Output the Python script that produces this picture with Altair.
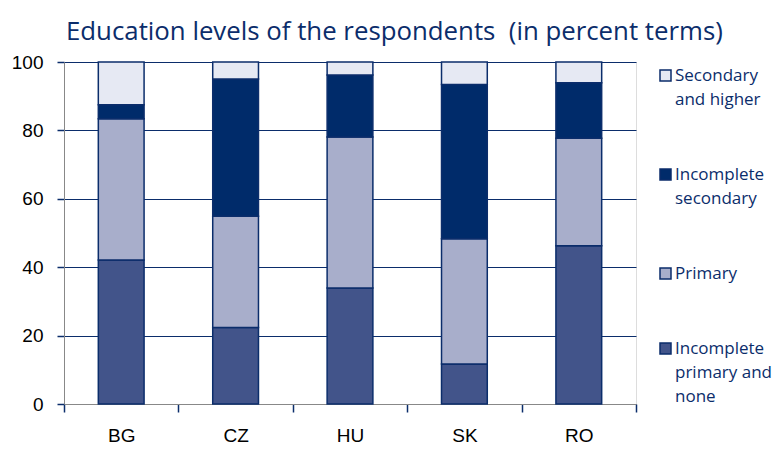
import altair as alt
import pandas as pd

countries = ["BG", "CZ", "HU", "SK", "RO"]
levels = ["Secondary and higher", "Incomplete secondary", "Primary", "Incomplete primary and none"]
incomplete_primary = [42.1, 22.4, 33.9, 11.7, 46.3]
primary = [41.3, 32.5, 44.2, 36.6, 31.4]
incomplete_secondary = [4.1, 40.1, 18.1, 45.1, 16.2]
secondary_higher = [12.5, 5.0, 3.8, 6.6, 6.1]
colors = ["#E6E9F3", "#002B6A", "#A8AECB", "#42548A"]

series = {
    "Incomplete primary and none": incomplete_primary,
    "Primary": primary,
    "Incomplete secondary": incomplete_secondary,
    "Secondary and higher": secondary_higher,
}
rank = {"Incomplete primary and none": 0, "Primary": 1, "Incomplete secondary": 2, "Secondary and higher": 3}

rows = []
for lvl, vals in series.items():
    for c, v in zip(countries, vals):
        rows.append({"country": c, "level": lvl, "value": v, "rank": rank[lvl]})
df = pd.DataFrame(rows)

NAVY = "#0B2D6B"
FONT = "Open Sans"

label_expr = (
    "datum.label == 'Secondary and higher' ? ['Secondary', 'and higher'] : "
    "datum.label == 'Incomplete secondary' ? ['Incomplete', 'secondary'] : "
    "datum.label == 'Incomplete primary and none' ? ['Incomplete', 'primary and', 'none'] : datum.label"
)

chart = alt.Chart(df).mark_bar(
    width=alt.RelativeBandSize(0.4), stroke=NAVY, strokeWidth=1.5
).encode(
    x=alt.X("country:N", sort=countries,
            scale=alt.Scale(paddingInner=0, paddingOuter=0),
            axis=alt.Axis(title=None, labelAngle=0, tickBand="extent", grid=False,
                          tickSize=8, tickWidth=1.5, tickColor=NAVY,
                          labelPadding=14, labelFontSize=19)),
    y=alt.Y("value:Q", stack="zero",
            scale=alt.Scale(domain=[0, 100], nice=False),
            axis=alt.Axis(title=None, values=[0, 20, 40, 60, 80, 100],
                          tickSize=7, tickWidth=1.5, tickColor=NAVY,
                          grid=True, gridColor=NAVY, gridWidth=1.2,
                          labelPadding=14, labelFontSize=19)),
    color=alt.Color("level:N",
                    scale=alt.Scale(domain=levels, range=colors),
                    legend=alt.Legend(title=None, orient="none", legendX=593, legendY=5,
                                      padding=0,
                                      symbolType="square", symbolSize=121,
                                      symbolStrokeColor=NAVY, symbolStrokeWidth=1.5,
                                      symbolOpacity=1,
                                      labelFontSize=17, labelColor=NAVY, labelFont=FONT,
                                      labelOffset=1, rowPadding=57, labelExpr=label_expr,
                                      labelBaseline="middle", labelLimit=200)),
    order=alt.Order("rank:Q", sort="ascending"),
).properties(
    width=572,
    height=342,
    title=alt.TitleParams("Education levels of the respondents\u00a0 (in percent terms)",
                          anchor="start", frame="group", fontSize=25.8, font=FONT, color=NAVY,
                          fontWeight="normal", dx=2, offset=7),
    autosize=alt.AutoSizeParams(type="none"),
    padding={"left": 56, "top": 54, "right": 139, "bottom": 46},
).configure_view(
    fill="#EDDDBE", stroke=NAVY, strokeWidth=2
).configure_axis(
    domainColor=NAVY, domainWidth=2, labelColor=NAVY, labelFont=FONT
).configure(
    background="white",
    style={"guide-label": {"lineHeight": 24}},
)

chart.save("out.html", embed_options={"renderer": "svg", "actions": False})
